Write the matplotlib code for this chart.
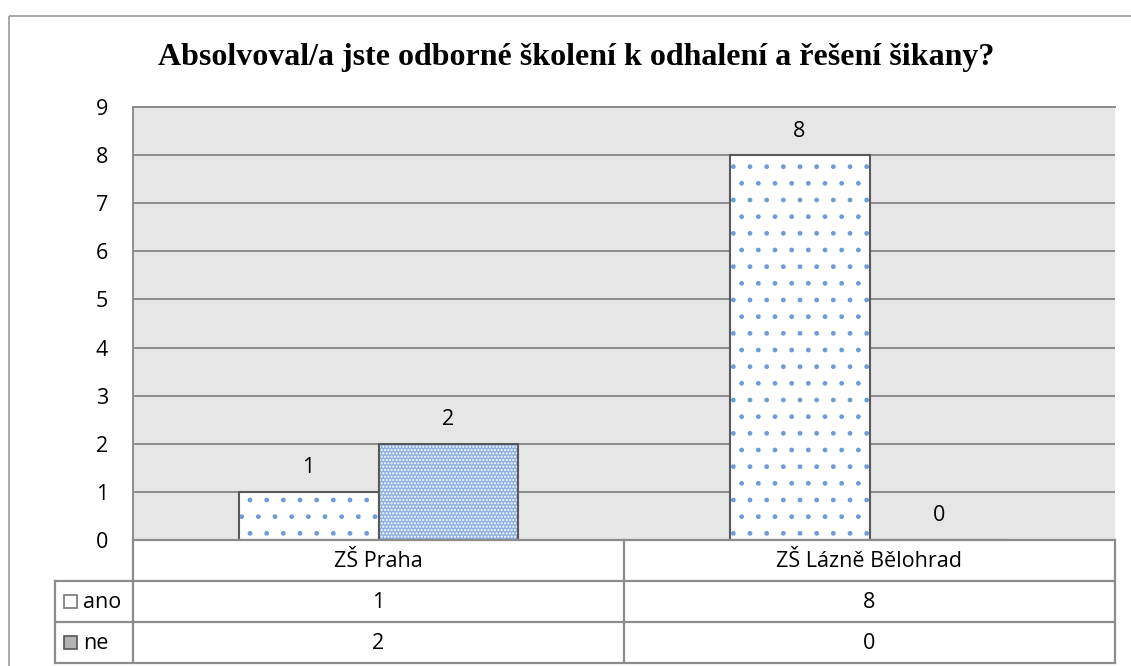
import numpy as np
import matplotlib.pyplot as plt
from matplotlib.patches import Rectangle

# data
categories = ['ZŠ Praha', 'ZŠ Lázně Bělohrad']
series = ['ano', 'ne']
ano = [1, 8]
ne = [2, 0]
values = [ano, ne]
title = 'Absolvoval/a jste odborné školení k odhalení a řešení šikany?'

W, H = 1131, 666
fig = plt.figure(figsize=(W / 100, H / 100), dpi=100)
plt.rcParams['hatch.linewidth'] = 1.0
txt_font = ['Open Sans', 'DejaVu Sans']
fs = 15.5
grid_c = '#8c8c8c'

# plot area in pixels
px_l, px_r, px_t, px_b = 133, 1115, 107, 540
ax = fig.add_axes([px_l / W, 1 - px_b / H, (px_r - px_l) / W, (px_b - px_t) / H])
ax.set_facecolor('#e6e6e6')
ax.set_xlim(-0.5, len(categories) - 0.5)
ax.set_ylim(0, 9)
ax.set_yticks(range(0, 10))
ax.set_xticks([])
ax.yaxis.grid(True, color=grid_c, linewidth=1.4)
ax.set_axisbelow(True)
ax.tick_params(axis='y', length=0, pad=18, labelsize=fs)
for lab in ax.get_yticklabels():
    lab.set_family(txt_font)
for s in ['right', 'bottom']:
    ax.spines[s].set_visible(False)
for s in ['top', 'left']:
    ax.spines[s].set_color(grid_c)
    ax.spines[s].set_linewidth(1.4)

x = np.arange(len(categories))
bw = 0.285
offsets = [-bw / 2, bw / 2]
faces = ['white', '#8fb1e2']
hatches = ['.', '.....']
hatch_cols = ['#6f9ad8', 'white']
for k, vals in enumerate(values):
    xs = x + offsets[k]
    ax.bar(xs, vals, bw, color=faces[k], hatch=hatches[k], edgecolor=hatch_cols[k], linewidth=0, zorder=2)
    ax.bar(xs, vals, bw, fill=False, edgecolor='#595959', linewidth=1.5, zorder=3)
    for xi, v in zip(xs, vals):
        ax.text(xi, v + 0.5, str(v), ha='center', va='center', fontsize=fs, family=txt_font)

# overlay in pixel coords for title, frame and data table
ov = fig.add_axes([0, 0, 1, 1], facecolor='none')
ov.set_xlim(0, W)
ov.set_ylim(H, 0)
ov.axis('off')
ov.add_patch(Rectangle((9, 16), W + 20, H + 20, fill=False, edgecolor='#999999', linewidth=1.2))
ov.text(576, 65, title, ha='center', va='baseline', fontsize=23, fontweight='bold',
        family=['Liberation Serif', 'DejaVu Serif'])

tab_l = 55
row_y = [540, 581, 622, 663]
col_x = [px_l, 624, px_r]
lw = 1.6
# header row
ov.plot([px_l, px_r], [row_y[0], row_y[0]], color=grid_c, lw=lw)
ov.plot([px_l, px_l], [row_y[0], row_y[-1]], color=grid_c, lw=lw)
ov.plot([px_r, px_r], [row_y[0], row_y[-1]], color=grid_c, lw=lw)
ov.plot([col_x[1], col_x[1]], [row_y[0], row_y[-1]], color=grid_c, lw=lw)
for y in row_y[1:]:
    ov.plot([tab_l, px_r], [y, y], color=grid_c, lw=lw)
ov.plot([tab_l, tab_l], [row_y[1], row_y[-1]], color=grid_c, lw=lw)

for j, c in enumerate(categories):
    ov.text((col_x[j] + col_x[j + 1]) / 2, (row_y[0] + row_y[1]) / 2 + 1, c,
            ha='center', va='center', fontsize=fs, family=txt_font)
key_face = ['white', '#b3b3b3']
key_edge = ['#777777', '#555555']
for i, (name, vals) in enumerate(zip(series, values)):
    yc = (row_y[i + 1] + row_y[i + 2]) / 2
    ov.add_patch(Rectangle((64, yc - 6.5), 13, 13, facecolor=key_face[i], edgecolor=key_edge[i], lw=1.2))
    ov.text(83, yc + 1, name, ha='left', va='center', fontsize=fs, family=txt_font)
    for j, v in enumerate(vals):
        ov.text((col_x[j] + col_x[j + 1]) / 2, yc + 1, str(v), ha='center', va='center',
                fontsize=fs, family=txt_font)

fig.savefig('out.png', dpi=100)
